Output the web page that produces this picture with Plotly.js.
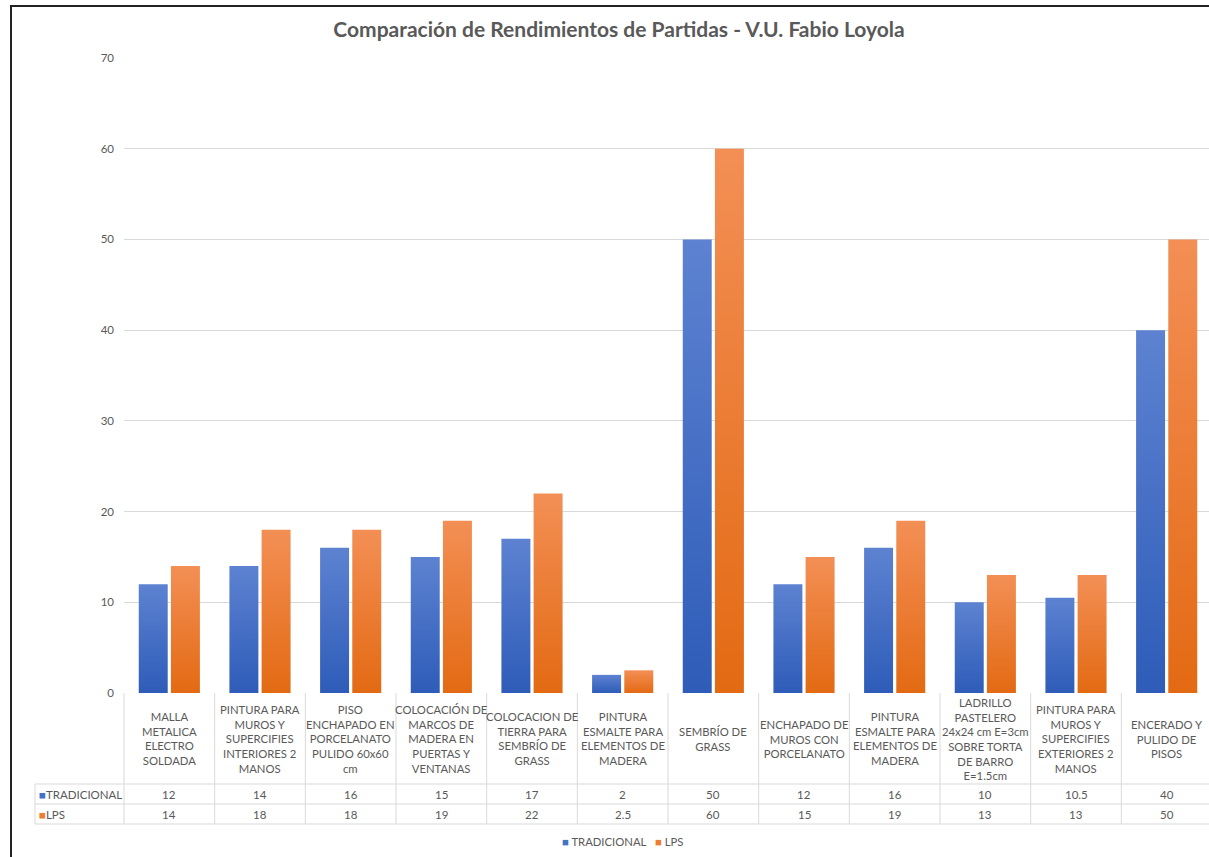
<!DOCTYPE html>
<html><head><meta charset="utf-8">
<script src="https://cdn.plot.ly/plotly-3.0.1.min.js"></script>
<style>
html,body{margin:0;padding:0;background:#fff;overflow:hidden;}
#chart{position:absolute;left:0;top:0;width:1216px;height:857px;}
#frame{position:absolute;left:10px;top:5px;width:1300px;height:900px;border-left:2px solid #222;border-top:2px solid #222;pointer-events:none;}
</style></head><body>
<div id="chart"></div>
<div id="frame"></div>
<script>
const categories = [
  "MALLA METALICA ELECTRO SOLDADA",
  "PINTURA PARA MUROS Y SUPERCIFIES INTERIORES 2 MANOS",
  "PISO ENCHAPADO EN PORCELANATO PULIDO 60x60 cm",
  "COLOCACIÓN DE MARCOS DE MADERA EN PUERTAS Y VENTANAS",
  "COLOCACION DE TIERRA PARA SEMBRÍO DE GRASS",
  "PINTURA ESMALTE PARA ELEMENTOS DE MADERA ",
  "SEMBRÍO DE GRASS",
  "ENCHAPADO DE MUROS CON PORCELANATO",
  "PINTURA ESMALTE PARA ELEMENTOS DE MADERA",
  "LADRILLO PASTELERO 24x24 cm E=3cm SOBRE TORTA DE BARRO E=1.5cm",
  "PINTURA PARA MUROS Y SUPERCIFIES EXTERIORES 2 MANOS",
  "ENCERADO Y PULIDO DE PISOS"
];
const tickLabels = [
  "MALLA<br>METALICA<br>ELECTRO<br>SOLDADA",
  "PINTURA PARA<br>MUROS Y<br>SUPERCIFIES<br>INTERIORES 2<br>MANOS",
  "PISO<br>ENCHAPADO EN<br>PORCELANATO<br>PULIDO 60x60<br>cm",
  "COLOCACIÓN DE<br>MARCOS DE<br>MADERA EN<br>PUERTAS Y<br>VENTANAS",
  "COLOCACION DE<br>TIERRA PARA<br>SEMBRÍO DE<br>GRASS",
  "PINTURA<br>ESMALTE PARA<br>ELEMENTOS DE<br>MADERA",
  "SEMBRÍO DE<br>GRASS",
  "ENCHAPADO DE<br>MUROS CON<br>PORCELANATO",
  "PINTURA<br>ESMALTE PARA<br>ELEMENTOS DE<br>MADERA",
  "LADRILLO<br>PASTELERO<br>24x24 cm E=3cm<br>SOBRE TORTA<br>DE BARRO<br>E=1.5cm",
  "PINTURA PARA<br>MUROS Y<br>SUPERCIFIES<br>EXTERIORES 2<br>MANOS",
  "ENCERADO Y<br>PULIDO DE<br>PISOS"
];
const seriesNames = ["TRADICIONAL", "LPS"];
const tradicional = [12, 14, 16, 15, 17, 2, 50, 12, 16, 10, 10.5, 40];
const lps = [14, 18, 18, 19, 22, 2.5, 60, 15, 19, 13, 13, 50];
const yTicks = [0, 10, 20, 30, 40, 50, 60, 70];
const titleText = "Comparación de Rendimientos de Partidas - V.U. Fabio Loyola";

const W = 1216, H = 857;
const PL = 124, PR = 1212, PT = 58, PB = 693;
const colBlue = "#4472C4", colOrange = "#ED7D31";
const txt = "#595959", grid = "#d9d9d9";
const FONT = "Lato, 'Open Sans', sans-serif";

const px2x = p => (p - PL) / (PR - PL);
const py2y = p => (PB - p) / (PB - PT);

const n = categories.length;
const rowLabelBottom = 784, row1Bottom = 804, row2Bottom = 824, headerLeft = 35;

const shapes = [];
const line = (x0, y0, x1, y1) => shapes.push({type: "line", xref: "paper", yref: "paper",
  x0: px2x(x0), x1: px2x(x1), y0: py2y(y0), y1: py2y(y1), line: {color: grid, width: 1}});
[rowLabelBottom, row1Bottom, row2Bottom].forEach(y => line(headerLeft, y, PR, y));
for (let i = 0; i <= n; i++) {
  const xp = PL + i * (PR - PL) / n;
  line(xp, PB, xp, row2Bottom);
}
line(headerLeft, rowLabelBottom, headerLeft, row2Bottom);

const annotations = [];
categories.forEach((c, i) => {
  annotations.push({xref: "x", yref: "paper", x: c, y: py2y((PB + rowLabelBottom) / 2),
    text: tickLabels[i], showarrow: false, align: "center", yanchor: "middle",
    font: {family: FONT, size: 11.3, color: txt}});
  annotations.push({xref: "x", yref: "paper", x: c, y: py2y((rowLabelBottom + row1Bottom) / 2),
    text: String(tradicional[i]), showarrow: false, yanchor: "middle",
    font: {family: FONT, size: 11.5, color: txt}});
  annotations.push({xref: "x", yref: "paper", x: c, y: py2y((row1Bottom + row2Bottom) / 2),
    text: String(lps[i]), showarrow: false, yanchor: "middle",
    font: {family: FONT, size: 11.5, color: txt}});
});
annotations.push({xref: "paper", yref: "paper", x: px2x(37), y: py2y((rowLabelBottom + row1Bottom) / 2),
  xanchor: "left", yanchor: "middle", showarrow: false,
  text: '<span style="color:' + colBlue + '">■</span>' + seriesNames[0],
  font: {family: FONT, size: 11.5, color: txt}});
annotations.push({xref: "paper", yref: "paper", x: px2x(37), y: py2y((row1Bottom + row2Bottom) / 2),
  xanchor: "left", yanchor: "middle", showarrow: false,
  text: '<span style="color:' + colOrange + '">■</span>' + seriesNames[1],
  font: {family: FONT, size: 11.5, color: txt}});
// legend items
[[560, colBlue, seriesNames[0]], [653, colOrange, seriesNames[1]]].forEach(([xp, col, name]) => {
  annotations.push({xref: "paper", yref: "paper", x: px2x(xp), y: py2y(841),
    xanchor: "left", yanchor: "middle", showarrow: false,
    text: '<span style="color:' + col + '">■</span> ' + name,
    font: {family: FONT, size: 11.3, color: txt}});
});

const traces = [
  {type: "bar", name: seriesNames[0], x: categories, y: tradicional, marker: {color: colBlue}, hoverinfo: "y"},
  {type: "bar", name: seriesNames[1], x: categories, y: lps, marker: {color: colOrange}, hoverinfo: "y"}
];

const layout = {
  width: W, height: H,
  margin: {l: PL, r: W - PR, t: PT, b: H - PB, pad: 0},
  paper_bgcolor: "#fff", plot_bgcolor: "#fff",
  showlegend: false,
  barmode: "group", bargap: 0.29, bargroupgap: 0.1,
  title: {text: "<b>" + titleText + "</b>", x: 619 / W, xanchor: "center", xref: "container",
    y: 1 - 30 / H, yanchor: "middle", yref: "container",
    font: {family: FONT, size: 21, color: txt}},
  xaxis: {type: "category", range: [-0.5, n - 0.5], showticklabels: false, showgrid: false,
    zeroline: false, showline: false, ticks: "", fixedrange: true},
  yaxis: {range: [0, 70], tickvals: yTicks, showgrid: true, gridcolor: grid, gridwidth: 1,
    zeroline: false, showline: false, ticks: "", ticklabelstandoff: 9,
    tickfont: {family: FONT, size: 11.5, color: txt}, fixedrange: true},
  shapes: shapes,
  annotations: annotations
};

Plotly.newPlot("chart", traces, layout, {displayModeBar: false, staticPlot: true}).then(gd => {
  const svg = gd.querySelector("svg.main-svg");
  const NS = "http://www.w3.org/2000/svg";
  let defs = svg.querySelector("defs");
  if (!defs) { defs = document.createElementNS(NS, "defs"); svg.insertBefore(defs, svg.firstChild); }
  const mk = (id, top, bot) => {
    const g = document.createElementNS(NS, "linearGradient");
    g.setAttribute("id", id); g.setAttribute("x1", "0"); g.setAttribute("y1", "0");
    g.setAttribute("x2", "0"); g.setAttribute("y2", "1");
    [[0, top], [1, bot]].forEach(([o, c]) => {
      const s = document.createElementNS(NS, "stop");
      s.setAttribute("offset", o); s.setAttribute("stop-color", c); g.appendChild(s);
    });
    defs.appendChild(g);
  };
  mk("gBlue", "#5d82d1", "#2e5cb8");
  mk("gOrange", "#f38f55", "#e36a13");
  const ids = ["gBlue", "gOrange"];
  gd.querySelectorAll(".barlayer .trace").forEach((t, k) => {
    t.querySelectorAll("path").forEach(p => { p.style.fill = "url(#" + ids[k] + ")"; });
  });
});
</script>
</body></html>
